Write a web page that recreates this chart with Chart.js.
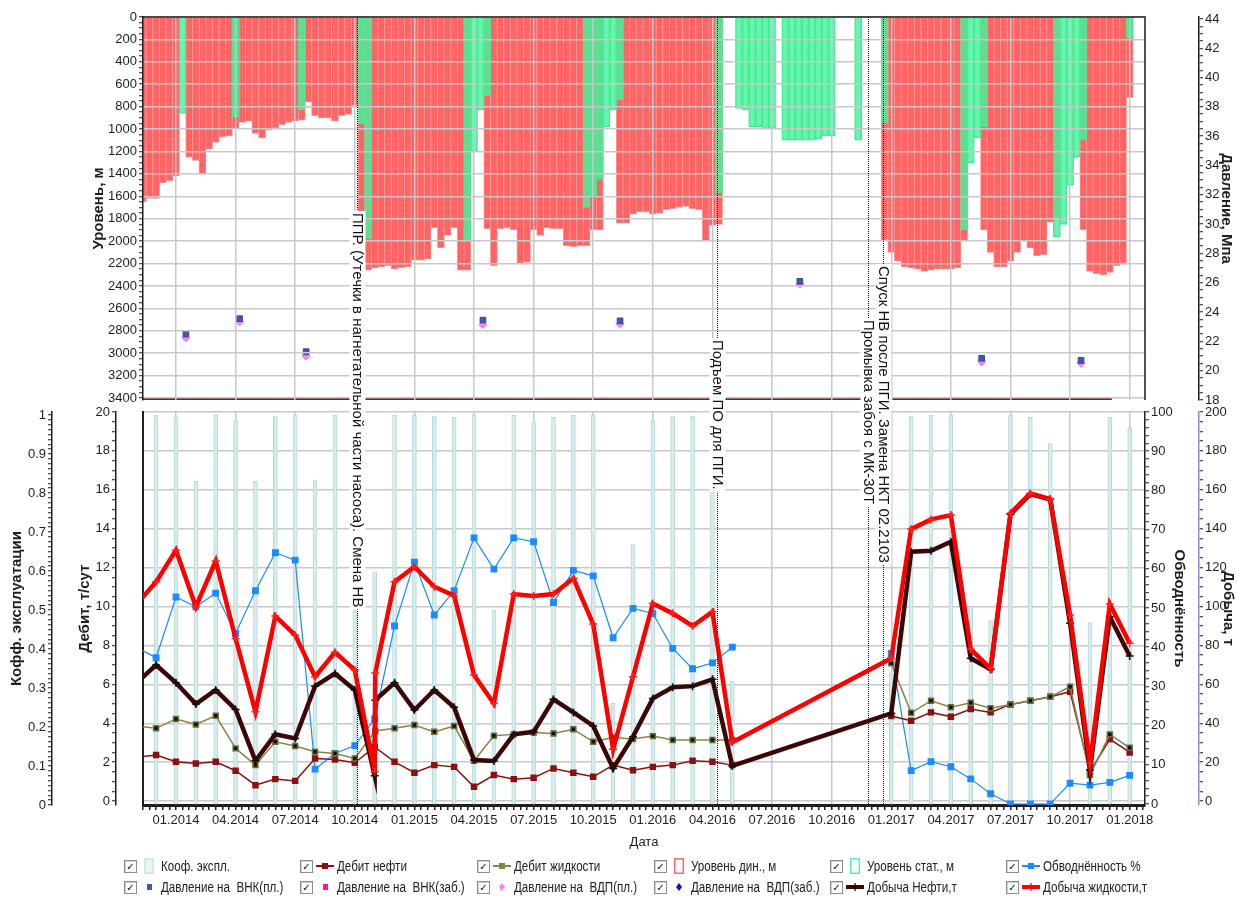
<!DOCTYPE html>
<html lang="ru">
<head>
<meta charset="utf-8">
<title>Уровни, дебиты и добыча по скважине</title>
<script src="https://cdn.jsdelivr.net/npm/chart.js@4.4.1/dist/chart.umd.min.js"></script>
<style>
  html, body { margin: 0; padding: 0; background: #fff; }
  #wrap { position: relative; width: 1237px; height: 900px; overflow: hidden; background: #fff; }
  #wrap canvas.chart { position: absolute; left: 0; top: 0; }
  .item { position: absolute; height: 18px; display: flex; align-items: center;
          font: 14px "Liberation Sans", Arial, sans-serif; color: #222; white-space: pre; }
  .item .txt { display: inline-block; transform: scaleX(0.83); transform-origin: 0 50%; }
  .chk { width: 11px; height: 11px; border: 1px solid #8d8d8d; background: #fff; margin-right: 3px;
         font: bold 10px "DejaVu Sans", sans-serif; line-height: 11px; text-align: center; color: #111;
         box-shadow: inset 1px 1px 0 #d0d0d0; }
  .item canvas { margin-right: 3px; }
</style>
</head>
<body>
<div id="wrap">
  <canvas id="topChart" class="chart" width="1237" height="900"></canvas>
  <canvas id="bottomChart" class="chart" width="1237" height="900"></canvas>
  <div id="legend"></div>
</div>
<script>
const _ = null;

/* ---------------------------
    DATA : LEVELS (top panel)
    one bar per ~10 days, months counted from 01.2014
------------------------------ */
const levelStart = -5 / 3;
const dynLevel = [
  1650, 1620, 1620, 1480, 1460, 1420, _, 1250, 1280, 1400,
  1180, 1120, 1070, 1060, 1000, 940, 930, 1040, 1080, 1010,
  990, 960, 940, 930, 920, 760, 880, 900, 900, 930,
  880, 870, 790, 2100, 2260, 2240, 2230, 2220, 2250, 2240,
  2230, 2170, 2170, 2160, 1880, 2060, 1950, 1880, 2260, 2260,
  _, _, 1890, 2220, 1890, 1880, 1900, 2200, 2190, 1900,
  1950, 1880, 1890, 1890, 2040, 2050, 2040, 2040, 1900, 1900,
  _, _, 1840, 1840, 1760, 1740, 1740, 1760, 1750, 1720,
  1710, 1700, 1690, 1710, 1720, 2000, 1860, 1850, _, _,
  _, _, _, _, _, _, _, _, _, _,
  _, _, _, _, _, _, _, _, _, _,
  _, _, 1990, 2100, 2180, 2230, 2240, 2250, 2270, 2260,
  2250, 2250, 2250, 2240, 2000, _, _, 1900, 2100, 2230,
  2230, 2180, 2100, 2000, 2060, 2130, 2120, 1830, 1800, _,
  _, _, 1900, 2270, 2290, 2300, 2280, 2220, 2200, 720
];
const statLevel = [
  _, _, _, _, _, _, 860, _, _, _,
  _, _, _, _, 890, _, _, _, _, _,
  _, _, _, _, 830, _, _, _, _, _,
  _, _, _, 950, 1975, _, _, _, _, _,
  _, _, _, _, _, _, _, _, _, 2000,
  1200, 830, 700, _, _, _, _, _, _, _,
  _, _, _, _, _, _, _, 1700, 1600, 1450,
  980, 830, 740, _, _, _, _, _, _, _,
  _, _, _, _, _, _, _, 1570, _, _,
  815, 830, 980, 980, 1000, 990, _, 1100, 1100, 1100,
  1100, 1100, 1090, 1060, 1060, _, _, _, 1100, _,
  _, _, 950, _, _, _, _, _, _, _,
  _, _, _, _, 1900, 1300, 1080, 980, _, _,
  _, _, _, _, _, _, _, _, 1960, 1850,
  1500, 1250, 1100, _, _, _, _, _, _, 190
];
const levelMonths = dynLevel.map((v, i) => levelStart + i / 3);

// pressure measurements, MPa
const pressureMonths = [0.5, 3.2, 6.55, 9.8, 15.45, 22.35, 31.4, 40.55, 45.55];
const pressVnkPl = [22.5, 23.55, 21.3, 17.5, 23.45, 23.4, 26.1, 20.85, 20.7];
const pressVdpPl = [22.25, 23.35, 21.0, 17.25, 23.15, 23.2, 25.9, 20.6, 20.5];

// bottom hole line
const holeMonths = [-1.7, 47.1];
const holeLevel = [3412, 3412];

/* ---------------------------
    DATA : MONTHLY (bottom panel)
------------------------------ */
const months = [-2, -1, 0, 1, 2, 3, 4, 5, 6, 7, 8, 9, 10, 10.03, 11, 12, 13, 14, 15, 16, 17, 18, 19, 20,
  21, 22, 23, 24, 25, 26, 27, 28, 29, 30, 31, 32, 33, 34, 35, 36, 37, 38, 39, 40, 41, 42, 43, 44, 45, 46, 47, 48];
const coefExpl = [_, 1.0, 0.994, 0.83, 1.0, 0.987, 0.83, 0.997, 1.0, 0.833, 1.0, 0.496, 0.598, _,
  1.0, 1.0, 0.997, 0.994, 1.0, 0.5, 1.0, 0.983, 0.994, 1.0, 1.0, 0.261, 0.668, 0.987, 0.997, 0.997, 0.997, 0.318,
  _, _, _, _, _, _, _, 0.338, 0.997, 1.0, 1.0, 0.508, 0.472, 1.0, 0.994, 0.927, _, 0.468, 0.994, 0.968];
const oilRate = [2.26, 2.37, 2.02, 1.93, 2.02, 1.56, 0.82, 1.13, 1.04, 2.19, 2.14, 1.97, 2.79, _,
  2.02, 1.46, 1.85, 1.76, 0.74, 1.34, 1.13, 1.2, 1.68, 1.46, 1.25, 1.85, 1.59, 1.76, 1.85, 2.07, 2.02, 1.85,
  _, _, _, _, _, _, _, 4.37, 4.13, 4.56, 4.34, 4.73, 4.56, 4.97, 5.16, 5.36, 5.62, 1.5, 3.19, 2.5];
const liqRate = [3.86, 3.74, 4.22, 3.94, 4.39, 2.71, 1.85, 3.05, 2.83, 2.54, 2.45, 2.19, _, 3.6,
  3.74, 3.91, 3.56, 3.86, 2.07, 3.36, 3.43, 3.53, 3.48, 3.69, 3.05, 3.27, 3.19, 3.34, 3.14, 3.14, 3.14, 3.14,
  _, _, _, _, _, _, _, 7.08, 4.54, 5.16, 4.82, 5.06, 4.77, 4.97, 5.16, 5.36, 5.88, 1.34, 3.43, 2.74];
const waterCut = [40, 37.3, 52.8, 50.3, 53.8, 43.5, 54.4, 64.1, 62.2, 8.9, 12.9, 14.9, 21.7, _,
  45.4, 61.7, 48.2, 54.4, 67.9, 59.9, 67.9, 66.9, 51.4, 59.6, 58.2, 42.4, 49.9, 48.6, 39.7, 34.5, 36.0, 40.0,
  _, _, _, _, _, _, _, 38.4, 8.5, 10.8, 9.5, 6.4, 2.6, 0, 0, 0, 5.3, 4.8, 5.5, 7.3];
const oilProd = [60.7, 69.9, 60.8, 49.9, 57.1, 47.1, 20.7, 34.4, 32.2, 59.1, 65.6, 57.1, 13, 51.9,
  60.8, 46.8, 57.1, 48.2, 21.1, 20.6, 34.3, 35.6, 52.3, 45.6, 38.6, 16.8, 33.1, 52.8, 58.5, 59.1, 62.6, 18.1,
  _, _, _, _, _, _, _, 45.1, 128.2, 128.7, 133.3, 73.4, 67.7, 147.4, 157.8, 155.1, 91.4, 16, 94.8, 74.6];
const liqProd = [101, 112.7, 129, 99.9, 123.4, 83.6, 45.9, 95.1, 85.3, 63.9, 76.5, 67.4, 15.1, 65.8,
  112.7, 120.5, 110.2, 105.6, 64.8, 50.2, 106.4, 105.4, 106.4, 114.5, 91, 26.6, 63.9, 101.6, 96.5, 90, 97.3, 30.2,
  _, _, _, _, _, _, _, 73.4, 139.8, 144.8, 147, 78, 68.2, 147.9, 158.2, 155.1, 95.6, 19.4, 101.3, 81.1];

// events (vertical dotted lines)
const eventMonths = [9.12, 27.23, 34.81, 35.6];
const eventTexts = [
  'ППР. (Утечки в нагнетательной части насоса). Смена НВ',
  'Подъем ПО для ПГИ.',
  'Промывка забоя с МК-30Т',
  'Спуск НВ после ПГИ. Замена НКТ 02.2103'
];

/* ---------------------------
    HELPERS
------------------------------ */
const REG = '"Liberation Sans", Arial, sans-serif';
const GRID = '#c8c8c8';
const INK = '#1e1e1e';
const CLEAR = 'rgba(0,0,0,0)';
const X_MIN = -1.66, X_MAX = 48.77;

Chart.defaults.font.family = REG;
Chart.defaults.font.size = 13;
Chart.defaults.color = INK;

const pts = (xs, ys) => xs.map((x, i) => ({ x, y: ys[i] })).filter(p => p.y !== null);

function steps(from, to, step) {
  const out = [];
  for (let k = 0; from + k * step <= to + 1e-9; k++) out.push(+(from + k * step).toFixed(6));
  return out;
}
const onStep = (v, step) => Math.abs(v / step - Math.round(v / step)) < 1e-6;
const isQuarter = v => Math.abs(v - Math.round(v)) < 1e-5 && Math.round(v) % 3 === 0;
function monthLabel(v) {
  const r = Math.round(v);
  const mm = ((r % 12) + 12) % 12 + 1;
  return (mm < 10 ? '0' : '') + mm + '.' + (2014 + Math.floor(r / 12));
}

function yAxis(o) {
  const z = o.gridZ || 0;
  return {
    type: 'linear', position: o.pos, weight: o.weight || 0, min: o.min, max: o.max,
    reverse: !!o.reverse, stacked: false,
    afterBuildTicks: s => { s.ticks = steps(o.from, o.to, o.minor).map(v => ({ value: v })); },
    afterFit: s => { s.width = o.width; },
    grid: {
      drawOnChartArea: !!o.gridOn, z: o.gridZ || -1,
      color: c => (c.tick && onStep(c.tick.value, o.major)) ? GRID : CLEAR,
      lineWidth: 1.5, tickColor: INK, tickLength: 4, tickWidth: 1
    },
    border: { color: o.borderColor || INK, width: 1.5, z },
    ticks: { autoSkip: false, padding: 2, color: INK, font: { family: REG, size: 13 }, z,
      callback: v => onStep(v, o.major) ? String(+v.toFixed(2)) : '' },
    title: { display: true, text: o.title, color: INK,
      font: { family: REG, size: 15, weight: 'bold' }, padding: { top: o.titlePad, bottom: 0 } }
  };
}

function spacer(pos, width, weight, showBorder) {
  return { type: 'linear', position: pos, weight, min: 0, max: 1,
    afterFit: s => { s.width = width; },
    grid: { display: false }, ticks: { display: false },
    border: { display: !!showBorder, color: INK, width: 2 } };
}

const frame = {
  id: 'frame',
  afterDraw(chart) {
    const { ctx, chartArea: a } = chart;
    ctx.save();
    ctx.strokeStyle = INK;
    ctx.lineWidth = 1.5;
    ctx.beginPath();
    ctx.moveTo(a.left, a.top);
    ctx.lineTo(a.right, a.top);
    ctx.lineTo(a.right, a.bottom);
    ctx.stroke();
    ctx.restore();
  }
};

const eventTops = [213, 340, 320, 266];
const events = {
  id: 'events',
  afterDraw(chart) {
    const { ctx, scales: { x }, chartArea } = chart;
    ctx.save();
    ctx.font = '15px ' + REG;
    eventMonths.forEach((m, i) => {
      const px = Math.round(x.getPixelForValue(m)) + 0.5;
      ctx.strokeStyle = '#111';
      ctx.lineWidth = 1;
      ctx.setLineDash([1, 1]);
      ctx.beginPath();
      ctx.moveTo(px, 17);
      ctx.lineTo(px, chartArea.bottom);
      ctx.stroke();
      ctx.setLineDash([]);
      const w = ctx.measureText(eventTexts[i]).width;
      ctx.fillStyle = '#fff';
      ctx.fillRect(px - 8, eventTops[i] - 2, 16, w + 4);
      ctx.save();
      ctx.translate(px, eventTops[i]);
      ctx.rotate(Math.PI / 2);
      ctx.fillStyle = '#111';
      ctx.textBaseline = 'middle';
      ctx.fillText(eventTexts[i], 0, 0);
      ctx.restore();
    });
    ctx.restore();
  }
};

/* ---------------------------
    TOP CHART : levels + pressure
------------------------------ */
new Chart(document.getElementById('topChart'), {
  type: 'line',
  data: {
    datasets: [
      { type: 'scatter', label: 'Давление на ВНК(пл.)', data: pts(pressureMonths, pressVnkPl), yAxisID: 'press',
        pointStyle: 'rect', pointRadius: 4, backgroundColor: '#3f5aa6', borderColor: '#34498c', clip: false, order: 0 },
      { type: 'scatter', label: 'Давление на ВДП(пл.)', data: pts(pressureMonths, pressVdpPl), yAxisID: 'press',
        pointStyle: 'rectRot', pointRadius: 4, backgroundColor: '#ff80ff', borderColor: '#ff66ff', clip: false, order: 0 },
      { type: 'line', data: pts(holeMonths, holeLevel), yAxisID: 'level',
        borderColor: '#8a1414', borderWidth: 3.5, pointRadius: 0, order: 1 },
      { type: 'bar', label: 'Уровень стат., м', data: pts(levelMonths, statLevel), yAxisID: 'level',
        backgroundColor: 'rgba(72,242,155,0.82)', borderColor: 'rgba(70,232,148,1)', borderWidth: 1,
        barThickness: 7, grouped: false, order: 2 },
      { type: 'bar', label: 'Уровень дин., м', data: pts(levelMonths, dynLevel), yAxisID: 'level',
        backgroundColor: 'rgba(255,88,88,0.92)', borderColor: 'rgba(255,150,150,1)', borderWidth: 1,
        barThickness: 7, grouped: false, order: 3 }
    ]
  },
  options: {
    responsive: false, animation: false, events: [],
    layout: { padding: { top: 17, bottom: 500, left: 0, right: 0 } },
    plugins: { legend: { display: false }, tooltip: { enabled: false } },
    scales: {
      x: { type: 'linear', min: X_MIN, max: X_MAX, offset: false,
        afterBuildTicks: s => { s.ticks = steps(0, 48, 3).map(v => ({ value: v })); },
        afterFit: s => { s.height = 0; },
        grid: { color: GRID, lineWidth: 1.5, z: 1, drawTicks: false, offset: false },
        border: { display: false }, ticks: { display: false } },
      level: yAxis({ pos: 'left', weight: 0, width: 143, min: 0, max: 3418, reverse: true,
        from: 0, to: 3400, minor: 50, major: 200, gridOn: true, gridZ: 1,
        title: 'Уровень, м', titlePad: 90 }),
      padR: spacer('right', 54, 0),
      press: yAxis({ pos: 'right', weight: 1, width: 38, min: 18, max: 44.136,
        from: 18, to: 44, minor: 0.5, major: 2, title: 'Давление, Мпа', titlePad: 2 })
    }
  },
  plugins: [frame]
});

/* ---------------------------
    BOTTOM CHART : rates, water cut, production
------------------------------ */
new Chart(document.getElementById('bottomChart'), {
  type: 'line',
  data: {
    datasets: [
      { type: 'line', label: 'Добыча жидкости,т', data: pts(months, liqProd), yAxisID: 'prod',
        borderColor: '#ff0000', borderWidth: 4.5, pointStyle: 'cross', pointRadius: 4,
        pointBorderColor: '#ff2020', pointBorderWidth: 1.5, spanGaps: true, order: 0 },
      { type: 'line', label: 'Добыча Нефти,т', data: pts(months, oilProd), yAxisID: 'prod',
        borderColor: '#3c0606', borderWidth: 4.5, pointStyle: 'cross', pointRadius: 4,
        pointBorderColor: '#111', pointBorderWidth: 1.5, spanGaps: true, order: 1 },
      { type: 'line', label: 'Дебит жидкости', data: pts(months, liqRate), yAxisID: 'rate',
        borderColor: '#85854a', borderWidth: 1.5, pointStyle: 'rect', pointRadius: 3.5,
        pointBackgroundColor: '#111', pointBorderColor: '#6f6f3a', spanGaps: 2, order: 2 },
      { type: 'line', label: 'Дебит нефти', data: pts(months, oilRate), yAxisID: 'rate',
        borderColor: '#8b1010', borderWidth: 1.5, pointStyle: 'rect', pointRadius: 3.5,
        pointBackgroundColor: '#8b1010', pointBorderColor: '#8b1010', spanGaps: 2, order: 3 },
      { type: 'line', label: 'Обводнённость %', data: pts(months, waterCut), yAxisID: 'water',
        borderColor: '#1a8cff', borderWidth: 1.2, pointStyle: 'rect', pointRadius: 4,
        pointBackgroundColor: '#1a8cff', pointBorderColor: '#1a8cff', spanGaps: 2, order: 4 },
      { type: 'bar', label: 'Кооф. экспл.', data: pts(months, coefExpl), yAxisID: 'coef',
        backgroundColor: 'rgba(214,237,237,0.95)', borderColor: '#b7d9d9', borderWidth: 1,
        barThickness: 4, grouped: false, order: 5 }
    ]
  },
  options: {
    responsive: false, animation: false, events: [],
    layout: { padding: { top: 412, bottom: 43, left: 0, right: 0 } },
    plugins: { legend: { display: false }, tooltip: { enabled: false } },
    scales: {
      x: { type: 'linear', position: 'bottom', min: X_MIN, max: X_MAX, offset: false,
        afterBuildTicks: s => { s.ticks = steps(-5 / 3, 48.7, 1 / 3).map(v => ({ value: v })); },
        afterFit: s => { s.height = 52; },
        grid: { color: c => (c.tick && isQuarter(c.tick.value)) ? GRID : CLEAR, lineWidth: 1.5,
          tickColor: INK, tickLength: 5, offset: false },
        border: { color: INK, width: 3 },
        ticks: { autoSkip: false, minRotation: 0, maxRotation: 0, padding: 3, color: INK,
          font: { family: REG, size: 13 }, callback: v => isQuarter(v) ? monthLabel(v) : '' },
        title: { display: true, text: 'Дата', color: INK, font: { family: REG, size: 13 },
          padding: { top: 2, bottom: 7 } } },
      gapL: spacer('left', 27, 0, true),
      rate: yAxis({ pos: 'left', weight: 1, width: 64, min: -0.2, max: 20,
        from: 0, to: 20, minor: 0.5, major: 2, gridOn: true, title: 'Дебит, т/сут', titlePad: 24 }),
      coef: yAxis({ pos: 'left', weight: 2, width: 52, min: 0, max: 1.0077,
        from: 0, to: 1, minor: 0.0125, major: 0.1, title: 'Кофф. эксплуатации', titlePad: 8 }),
      water: yAxis({ pos: 'right', weight: 0, width: 54, min: -0.26, max: 100,
        from: 0, to: 100, minor: 2, major: 10, title: 'Обводнённость', titlePad: 11 }),
      prod: yAxis({ pos: 'right', weight: 1, width: 38, min: -2, max: 200,
        from: 0, to: 200, minor: 5, major: 20, borderColor: '#8c8ce0', title: 'Добыча, т', titlePad: 0 })
    }
  },
  plugins: [events]
});

/* ---------------------------
    LEGEND (html)
------------------------------ */
const legendItems = [
  ['Кооф. экспл.', ['box', '#cfe5e5', '#e8f5f5']],
  ['Дебит нефти', ['line', '#8b1010']],
  ['Дебит жидкости', ['line', '#85854a']],
  ['Уровень дин., м', ['box', '#ff6b6b', '#fff']],
  ['Уровень стат., м', ['box', '#5cf0a8', '#fff']],
  ['Обводнённость %', ['line', '#1a8cff']],
  ['Давление на  ВНК(пл.)', ['sq', '#3f5aa6']],
  ['Давление на  ВНК(заб.)', ['sq', '#ff1a8c']],
  ['Давление на  ВДП(пл.)', ['dia', '#ff80ff']],
  ['Давление на  ВДП(заб.)', ['dia', '#1010c0']],
  ['Добыча Нефти,т', ['thick', '#3c0606', '#000']],
  ['Добыча жидкости,т', ['thick', '#ff0000', '#ff0000']]
];
const legendCols = [124, 300, 477, 654, 830, 1006];
const legendRows = [857, 878];

function drawIcon(cv, spec) {
  const g = cv.getContext('2d');
  const [kind, color, fill] = spec;
  if (kind === 'box') {
    g.fillStyle = fill;
    g.fillRect(4, 0, 10, 16);
    g.strokeStyle = color;
    g.lineWidth = 1.5;
    g.strokeRect(4.75, 0.75, 8.5, 14.5);
  } else if (kind === 'line' || kind === 'thick') {
    g.strokeStyle = color;
    g.lineWidth = kind === 'thick' ? 4 : 2;
    g.beginPath(); g.moveTo(0, 8); g.lineTo(18, 8); g.stroke();
    if (kind === 'line') {
      g.fillStyle = color;
      g.fillRect(6, 5, 6, 6);
    } else {
      g.strokeStyle = fill;
      g.lineWidth = 1.2;
      g.beginPath(); g.moveTo(9, 4); g.lineTo(9, 12); g.stroke();
    }
  } else if (kind === 'sq') {
    g.fillStyle = color;
    g.fillRect(7, 5, 5, 6);
  } else if (kind === 'dia') {
    g.fillStyle = color;
    g.beginPath(); g.moveTo(9, 4); g.lineTo(12, 8); g.lineTo(9, 12); g.lineTo(6, 8); g.closePath(); g.fill();
  }
}

const legendBox = document.getElementById('legend');
legendItems.forEach(([text, icon], i) => {
  const item = document.createElement('div');
  item.className = 'item';
  item.style.left = legendCols[i % 6] + 'px';
  item.style.top = legendRows[Math.floor(i / 6)] + 'px';
  const chk = document.createElement('span');
  chk.className = 'chk';
  chk.textContent = '✓';
  const cv = document.createElement('canvas');
  cv.width = 18; cv.height = 16;
  drawIcon(cv, icon);
  const label = document.createElement('span');
  label.className = 'txt';
  label.textContent = text;
  item.append(chk, cv, label);
  legendBox.appendChild(item);
});
</script>
</body>
</html>
